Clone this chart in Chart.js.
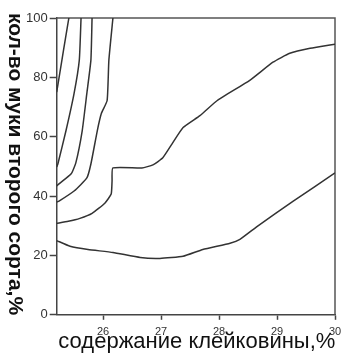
<!DOCTYPE html>
<html lang="ru">
<head>
<meta charset="UTF-8">
<title>Кол-во муки второго сорта</title>
<script src="https://cdn.jsdelivr.net/npm/chart.js"></script>
<style>
  body { margin: 0; background: #fff; }
  .wrap { width: 344px; height: 354px; }
</style>
</head>
<body>
<div class="wrap"><canvas id="chart" width="344" height="354"></canvas></div>
<script>
const xTicks = [26, 27, 28, 29, 30];
const yTicks = [0, 20, 40, 60, 80, 100];
const xTitle = 'содержание клейковины,%';
const yTitle = 'кол-во муки второго сорта,%';

// contour lines
const lineAx = [25.41, 25.35, 25.29, 25.2];
const lineAy = [100, 93, 85.8, 75];

const lineBx = [25.62, 25.59, 25.5, 25.36, 25.22, 25.2];
const lineBy = [100, 85.8, 74.6, 62, 50.8, 49.8];

const lineCx = [25.81, 25.79, 25.72, 25.64, 25.53, 25.45, 25.24, 25.2];
const lineCy = [100, 85.8, 74.6, 62, 51.2, 47.5, 44.1, 43.4];

const lineEx = [26.17, 26.1, 26.07, 25.97, 25.9, 25.79, 25.72, 25.5, 25.24, 25.2];
const lineEy = [100, 85.8, 72.2, 67.8, 62, 50.8, 46.1, 41.7, 38.3, 38];

const lineDx = [25.2, 25.4, 25.6, 25.81, 26.03, 26.14, 26.155, 26.17, 26.67, 26.86, 27.03, 27.19, 27.38, 27.67, 27.97, 28.53, 28.93, 29.22, 29.57, 30];
const lineDy = [30.8, 31.5, 32.5, 34.2, 37.6, 40.7, 45.1, 49.5, 49.5, 50.5, 52.9, 57.6, 63.1, 67.1, 72.2, 79, 85.1, 88.1, 89.8, 91.2];

const lineFx = [25.2, 25.43, 25.74, 26.17, 26.64, 26.98, 27.38, 27.72, 28.19, 28.36, 28.66, 29.28, 30];
const lineFy = [25, 23.1, 22, 21, 19.3, 19, 19.7, 22, 24.1, 25.4, 29.8, 38.3, 47.8];

function pts(xs, ys) {
    return xs.map((x, i) => ({ x: x, y: ys[i] }));
}

function line(xs, ys) {
    return {
        data: pts(xs, ys),
        borderColor: '#333',
        borderWidth: 1.5,
        pointRadius: 0,
        tension: 0.15,
        fill: false
    };
}

const frameAndTitles = {
    id: 'frameAndTitles',
    beforeDatasetsDraw(chart) {
        const a = chart.chartArea;
        const ctx = chart.ctx;
        ctx.save();
        ctx.strokeStyle = '#555';
        ctx.lineWidth = 1.5;
        ctx.beginPath();
        ctx.moveTo(a.left, a.top);
        ctx.lineTo(a.right, a.top);
        ctx.lineTo(a.right, a.bottom);
        ctx.stroke();
        ctx.restore();
    },
    afterDraw(chart) {
        const a = chart.chartArea;
        const ctx = chart.ctx;
        ctx.save();
        ctx.fillStyle = '#111';
        ctx.textAlign = 'center';
        ctx.textBaseline = 'alphabetic';
        ctx.font = '22px "Liberation Sans", Arial, sans-serif';
        ctx.fillText(xTitle, (a.left + a.right) / 2 + 1, 348);
        ctx.translate(8, 164);
        ctx.rotate(Math.PI / 2);
        ctx.textBaseline = 'middle';
        ctx.font = 'bold 21px "Liberation Sans", Arial, sans-serif';
        ctx.fillText(yTitle, 0, -7);
        ctx.restore();
    }
};

new Chart(document.getElementById('chart'), {
    type: 'line',
    data: {
        datasets: [
            line(lineAx, lineAy),
            line(lineBx, lineBy),
            line(lineCx, lineCy),
            line(lineEx, lineEy),
            line(lineDx, lineDy),
            line(lineFx, lineFy)
        ]
    },
    options: {
        responsive: false,
        animation: false,
        layout: { padding: { left: 24, right: 9, top: 18, bottom: 9 } },
        plugins: { legend: { display: false }, tooltip: { enabled: false } },
        scales: {
            x: {
                type: 'linear',
                min: 25.2,
                max: 30,
                afterBuildTicks: s => { s.ticks = xTicks.map(v => ({ value: v })); },
                afterFit: s => { s.paddingRight = 0; },
                grid: { drawOnChartArea: false, tickLength: 5, color: '#444', tickWidth: 1.5 },
                border: { color: '#444', width: 1.5 },
                ticks: { color: '#333', padding: 6, font: { family: 'Liberation Sans', size: 11 } }
            },
            y: {
                type: 'linear',
                min: 0,
                max: 100,
                afterBuildTicks: s => { s.ticks = yTicks.map(v => ({ value: v })); },
                grid: { drawOnChartArea: false, tickLength: 7, color: '#444', tickWidth: 1.5 },
                border: { color: '#444', width: 1.5 },
                ticks: { color: '#333', padding: 2, font: { family: 'Liberation Sans', size: 13 } }
            }
        }
    },
    plugins: [frameAndTitles]
});
</script>
</body>
</html>
